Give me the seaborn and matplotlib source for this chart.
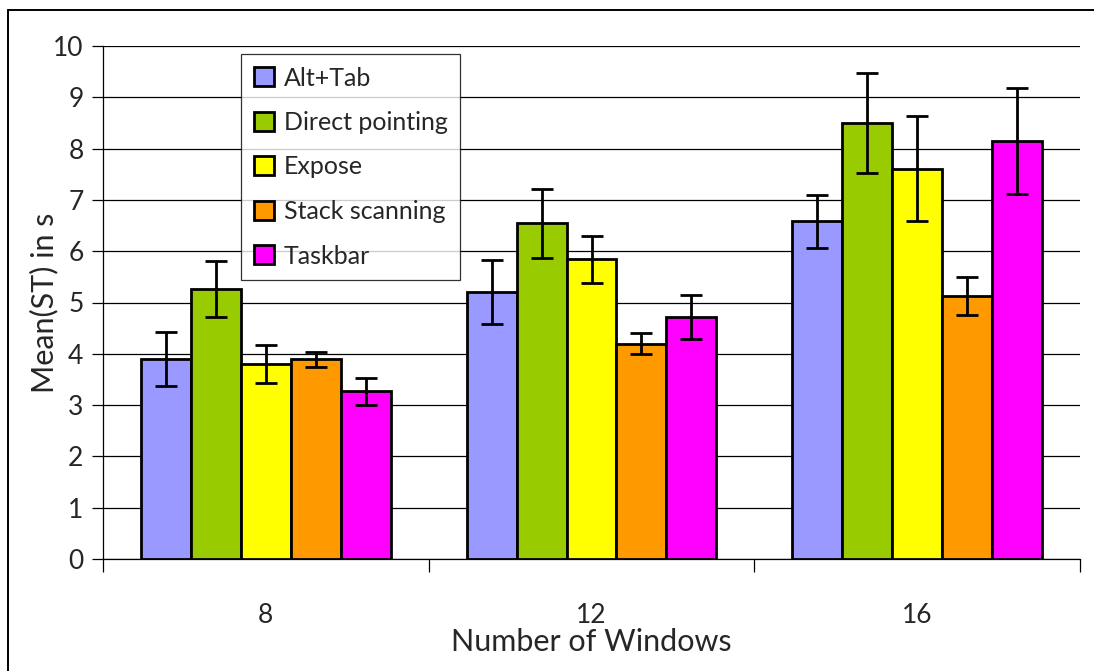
import pandas as pd
import matplotlib.pyplot as plt
import seaborn as sns
from matplotlib.lines import Line2D
from matplotlib.ticker import FixedLocator, NullFormatter

# Datos
windows = ['8', '12', '16']
techniques = ['Alt+Tab', 'Direct pointing', 'Expose', 'Stack scanning', 'Taskbar']
mean_alt_tab = [3.90, 5.20, 6.58]
mean_direct = [5.26, 6.54, 8.50]
mean_expose = [3.81, 5.84, 7.61]
mean_stack = [3.89, 4.20, 5.12]
mean_taskbar = [3.27, 4.72, 8.15]
err_alt_tab = [0.52, 0.62, 0.52]
err_direct = [0.55, 0.68, 0.97]
err_expose = [0.37, 0.46, 1.02]
err_stack = [0.14, 0.20, 0.37]
err_taskbar = [0.26, 0.43, 1.04]
colors = ['#9999FF', '#99CC00', '#FFFF00', '#FF9900', '#FF00FF']

means = [mean_alt_tab, mean_direct, mean_expose, mean_stack, mean_taskbar]
errs = [err_alt_tab, err_direct, err_expose, err_stack, err_taskbar]

rows = []
for t, m, e in zip(techniques, means, errs):
    for w, mv, ev in zip(windows, m, e):
        rows.append({'windows': w, 'technique': t, 'mean': mv, 'err': ev})
df = pd.DataFrame(rows)

sns.set_theme(style="white")
plt.rcParams['font.family'] = ['Lato', 'DejaVu Sans']

fig = plt.figure(figsize=(10.94, 6.71), dpi=100)
ax = fig.add_axes([103 / 1094, 1 - 559 / 671, (1080 - 103) / 1094, (559 - 46) / 671])

sns.barplot(data=df, x='windows', y='mean', hue='technique', order=windows,
            hue_order=techniques, palette=colors, saturation=1, errorbar=None,
            width=0.766, edgecolor='black', linewidth=2.0, ax=ax, zorder=3)

# Barras de error en el centro de cada barra
for container, t in zip(ax.containers, techniques):
    sub = df[df['technique'] == t].set_index('windows').loc[windows]
    xs = [p.get_x() + p.get_width() / 2 for p in container.patches]
    ax.errorbar(xs, sub['mean'].values, yerr=sub['err'].values, fmt='none',
                ecolor='black', elinewidth=2.0, capsize=8, capthick=2.0, zorder=4)

ax.set_ylim(0, 10)
ax.set_xlim(-0.5, 2.5)
ax.set_yticks(range(0, 11))
ax.yaxis.grid(True, color='black', linewidth=0.9, zorder=0)
ax.set_axisbelow(True)
for s in ['top', 'right']:
    ax.spines[s].set_visible(False)
for s in ['left', 'bottom']:
    ax.spines[s].set_color('black')
    ax.spines[s].set_linewidth(0.9)

ax.tick_params(axis='y', which='major', left=True, length=8, width=0.9,
               color='black', labelsize=19, pad=6)
ax.tick_params(axis='x', which='major', bottom=False, labelsize=19, pad=26)
ax.xaxis.set_minor_locator(FixedLocator([-0.5, 0.5, 1.5, 2.5]))
ax.xaxis.set_minor_formatter(NullFormatter())
ax.tick_params(axis='x', which='minor', bottom=True, length=9, width=0.9, color='black')

ax.set_xlabel('Number of Windows', fontsize=22, labelpad=0)
ax.set_ylabel('Mean(ST) in s', fontsize=22, labelpad=-4)

leg = ax.legend(loc='upper left', bbox_to_anchor=((241 - 103) / 977, (559 - 54) / 513),
                fontsize=18, frameon=True, fancybox=False, edgecolor='black',
                handlelength=0.8, handleheight=0.8, handletextpad=0.4,
                labelspacing=0.86, borderpad=0.5, borderaxespad=0)
leg.get_frame().set_linewidth(0.9)
for h in leg.legend_handles:
    h.set_edgecolor('black')
    h.set_linewidth(2.0)

# Marco exterior (solo izquierda y arriba visibles)
fig.add_artist(Line2D([8 / 1094, 8 / 1094], [0, 1 - 10 / 671], color='black', lw=1.4))
fig.add_artist(Line2D([8 / 1094, 1], [1 - 10 / 671, 1 - 10 / 671], color='black', lw=1.4))

fig.savefig('out.png', dpi=100)
